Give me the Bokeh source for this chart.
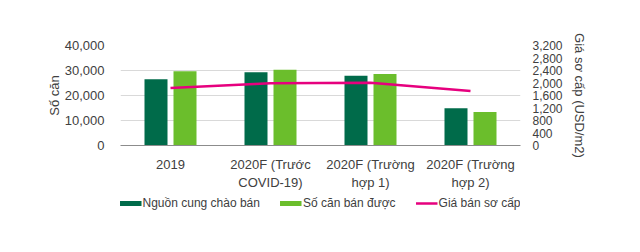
from bokeh.plotting import figure
from bokeh.models import (ColumnDataSource, Range1d, LinearAxis, NumeralTickFormatter,
                          FixedTicker, Legend, LegendItem)
from bokeh.layouts import column
from bokeh.transform import dodge
from bokeh.embed import file_html
from bokeh.resources import INLINE

categories = ["2019", "2020F (Trước\nCOVID-19)", "2020F (Trường\nhợp 1)", "2020F (Trường\nhợp 2)"]
supply = [26500, 29300, 27900, 14900]
sold = [29700, 30300, 28600, 13400]
price = [1840, 1990, 2010, 1745]
left_ticks = [0, 10000, 20000, 30000, 40000]
right_ticks = [0, 400, 800, 1200, 1600, 2000, 2400, 2800, 3200]
series_names = ["Nguồn cung chào bán", "Số căn bán được", "Giá bán sơ cấp"]

FONT = "Liberation Sans"
TXT = "#404040"
C_SUPPLY = "#006B4A"
C_SOLD = "#6BBE2C"
C_PRICE = "#E6007E"

src = ColumnDataSource(dict(cat=categories, supply=supply, sold=sold, price=price))

p = figure(x_range=categories, y_range=Range1d(0, 40000),
           frame_width=400, frame_height=100,
           output_backend="svg", toolbar_location=None,
           min_border_left=120, min_border_right=120, min_border_top=45, min_border_bottom=40)
p.outline_line_color = None
p.background_fill_color = "white"

p.extra_y_ranges = {"price": Range1d(0, 3200)}

p.vbar(x=dodge("cat", -0.145, range=p.x_range), top="supply", width=0.23,
       source=src, color=C_SUPPLY, line_color=None)
p.vbar(x=dodge("cat", 0.145, range=p.x_range), top="sold", width=0.23,
       source=src, color=C_SOLD, line_color=None)
p.line(x="cat", y="price", source=src, y_range_name="price",
       line_color=C_PRICE, line_width=2.5)

# left axis
ya = p.yaxis[0]
ya.ticker = FixedTicker(ticks=left_ticks)
ya.formatter = NumeralTickFormatter(format="0,0")
ya.axis_line_color = None
ya.major_tick_line_color = None
ya.minor_tick_line_color = None
ya.major_label_standoff = 10
ya.axis_label = "Số căn"
ya.axis_label_standoff = 0

# right axis
ra = LinearAxis(y_range_name="price", ticker=FixedTicker(ticks=right_ticks),
                formatter=NumeralTickFormatter(format="0,0"),
                axis_label="Giá sơ cấp (USD/m2)")
ra.axis_line_color = None
ra.major_tick_line_color = None
ra.minor_tick_line_color = None
ra.major_label_standoff = 6
ra.axis_label_standoff = 6
p.add_layout(ra, "right")

xa = p.xaxis[0]
xa.axis_line_color = "#8c8c8c"
xa.major_tick_line_color = None
xa.minor_tick_line_color = None
xa.major_label_standoff = 5

for ax in [ya, ra, xa]:
    ax.major_label_text_font = FONT
    ax.major_label_text_font_size = "13px"
    ax.major_label_text_color = TXT
    ax.axis_label_text_font = FONT
    ax.axis_label_text_font_size = "13px"
    ax.axis_label_text_font_style = "normal"
    ax.axis_label_text_color = TXT
ra.major_label_text_font_size = "12px"
xa.major_label_text_line_height = 1.2

p.xgrid.grid_line_color = None
p.ygrid.grid_line_color = "#d9d9d9"
p.ygrid.ticker = FixedTicker(ticks=left_ticks)

# legend strip (separate small figure below the chart)
lg = figure(width=640, height=22, x_range=Range1d(0, 1), y_range=Range1d(0, 1),
            x_axis_location=None, y_axis_location=None,
            output_backend="svg", toolbar_location=None, min_border=0)
lg.outline_line_color = None
lg.grid.visible = False
off = ColumnDataSource(dict(x=[-5, -6], y=[-5, -6]))
d1 = lg.line(x="x", y="y", source=off, line_color=C_SUPPLY, line_width=5)
d2 = lg.line(x="x", y="y", source=off, line_color=C_SOLD, line_width=5)
d3 = lg.line(x="x", y="y", source=off, line_color=C_PRICE, line_width=2.5)

legend = Legend(items=[LegendItem(label=series_names[0], renderers=[d1]),
                       LegendItem(label=series_names[1], renderers=[d2]),
                       LegendItem(label=series_names[2], renderers=[d3])],
                orientation="horizontal", location="center",
                label_text_font=FONT, label_text_font_size="12px", label_text_color=TXT,
                glyph_width=22, glyph_height=6, label_standoff=1, spacing=20,
                border_line_color=None, background_fill_alpha=0, padding=0, margin=0)
lg.add_layout(legend, "center")

layout = column(p, lg, spacing=0)
open("out.html", "w").write(file_html(layout, INLINE))
